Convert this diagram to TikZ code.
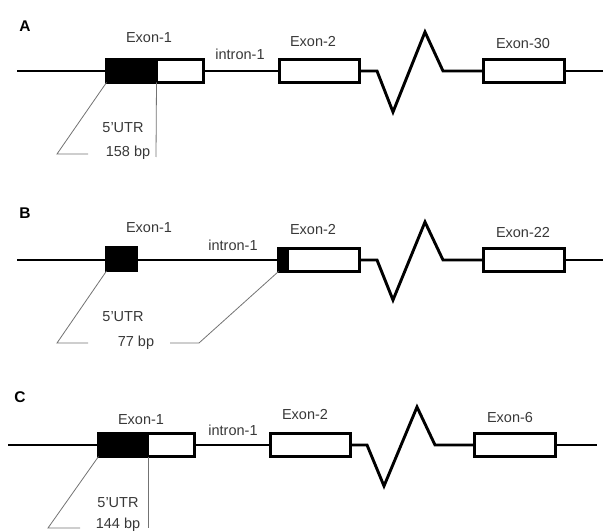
\documentclass[tikz,border=0pt]{standalone}
\usepackage{fontspec}
\setmainfont{Liberation Sans}
\usetikzlibrary{positioning}
\tikzset{
    exon/.style = {draw, line width = 2.9pt, fill = white, minimum height = 23pt, inner sep = 0pt, outer sep = 0pt},
    utr/.style  = {exon, fill = black},
    gene/.style = {line width = 2.9pt},
    ann/.style  = {draw = black!55, line width = 0.8pt},
    lbl/.style  = {text = black!78, inner sep = 0pt, font = \fontsize{14.5}{17}\selectfont},
    tag/.style  = {inner sep = 0pt, font = \bfseries\fontsize{15.5}{18}\selectfont}
}

\begin{document}
\begin{tikzpicture}
        [
            x = 1pt, y = -1pt
        ]
        \useasboundingbox (0,0) rectangle (603,532);
        % panel A
        \node[tag] (tagA) at (25,26) {A};
        \coordinate (startA) at (17,71);
        \coordinate (endA)   at (603,71);
        \node[utr, minimum width = 50pt, anchor = west] (utrA) at (106.5,71) {};
        \node[exon, minimum width = 47pt, right = 0pt of utrA] (cdsA) {};
        \node[exon, minimum width = 80pt, anchor = west] (exTwoA) at (279.5,71) {};
        \node[exon, minimum width = 81pt, anchor = west] (exLastA) at (483.5,71) {};
        \node[lbl] (labOneA)  at (149,38)  {Exon-1};
        \node[lbl] (labIntA)  at (240,54)  {intron-1};
        \node[lbl] (labTwoA)  at (313,42)  {Exon-2};
        \node[lbl] (labLastA) at (523,44)  {Exon-30};
        \node[lbl] (utrTxtA)  at (123,128) {5'UTR};
        \node[lbl] (bpTxtA)   at (128,153) {158 bp};
        \draw[gene] (startA) -- (utrA.west);
        \draw[gene] (cdsA.east) -- (exTwoA.west);
        \draw[gene] (exTwoA.east) -- (377,71) -- (393,112) -- (425,32) -- (443,71) -- (exLastA.west);
        \draw[gene] (exLastA.east) -- (endA);
        \draw[ann]  (utrA.south west) -- (57,154) -- (88,154);
        \draw[ann]  (utrA.south east) -- (156,157);

        % panel B
        \node[tag] (tagB) at (25,213) {B};
        \coordinate (startB) at (17,260);
        \coordinate (endB)   at (603,260);
        \node[utr, minimum width = 30pt, minimum height = 24pt, anchor = west] (utrB) at (106.5,259) {};
        \node[utr, minimum width = 9.5pt, anchor = west] (utrTwoB) at (278.5,260) {};
        \node[exon, minimum width = 71.5pt, right = 0pt of utrTwoB] (exTwoB) {};
        \node[exon, minimum width = 81pt, anchor = west] (exLastB) at (483.5,260) {};
        \node[lbl] (labOneB)  at (149,228) {Exon-1};
        \node[lbl] (labIntB)  at (233,245) {intron-1};
        \node[lbl] (labTwoB)  at (313,230) {Exon-2};
        \node[lbl] (labLastB) at (523,233) {Exon-22};
        \node[lbl] (utrTxtB)  at (123,317) {5'UTR};
        \node[lbl] (bpTxtB)   at (136,343) {77 bp};
        \draw[gene] (startB) -- (startB -| utrB.west);
        \draw[gene] (startB -| utrB.east) -- (utrTwoB.west);
        \draw[gene] (exTwoB.east) -- (377,260) -- (393,300) -- (425,222) -- (443,260) -- (exLastB.west);
        \draw[gene] (exLastB.east) -- (endB);
        \draw[ann]  (utrB.south west) -- (57,343) -- (88,343);
        \draw[ann]  (170,343) -- (199,343) -- (utrTwoB.south west);

        % panel C
        \node[tag] (tagC) at (20,397) {C};
        \coordinate (startC) at (8,445);
        \coordinate (endC)   at (597,445);
        \node[utr, minimum width = 49.5pt, anchor = west] (utrC) at (98.5,445) {};
        \node[exon, minimum width = 46.5pt, right = 0pt of utrC] (cdsC) {};
        \node[exon, minimum width = 80pt, anchor = west] (exTwoC) at (270.5,445) {};
        \node[exon, minimum width = 81pt, anchor = west] (exLastC) at (474.5,445) {};
        \node[lbl] (labOneC)  at (141,420) {Exon-1};
        \node[lbl] (labIntC)  at (233,430) {intron-1};
        \node[lbl] (labTwoC)  at (305,415) {Exon-2};
        \node[lbl] (labLastC) at (510,418) {Exon-6};
        \node[lbl] (utrTxtC)  at (118,503) {5'UTR};
        \node[lbl] (bpTxtC)   at (118,525) {144 bp};
        \draw[gene] (startC) -- (utrC.west);
        \draw[gene] (cdsC.east) -- (exTwoC.west);
        \draw[gene] (exTwoC.east) -- (367,445) -- (384,486) -- (417,407) -- (435,445) -- (exLastC.west);
        \draw[gene] (exLastC.east) -- (endC);
        \draw[ann]  (utrC.south west) -- (48,528) -- (80,528);
        \draw[ann]  (utrC.south east) -- (148,528);
    \end{tikzpicture}
\end{document}
